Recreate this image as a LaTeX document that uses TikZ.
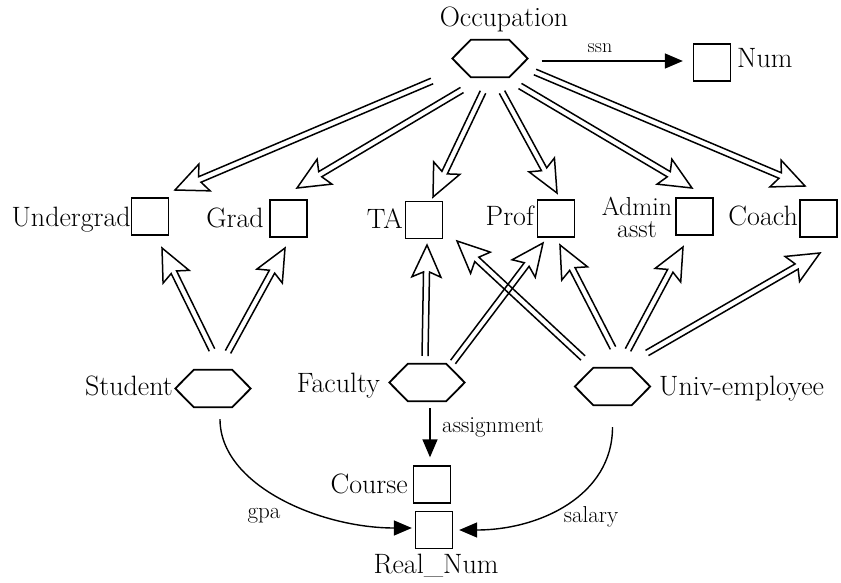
\documentclass[tikz,border=0pt]{standalone}
\usepackage{fontspec}
\usetikzlibrary{calc,arrows.meta}
\tikzset{
  x=1pt, y=-1pt,
  lab/.style={font=\fontsize{28}{30}\selectfont, inner sep=0pt},
  small/.style={font=\fontsize{23}{25}\selectfont, inner sep=0pt},
  sq/.style={draw, line width=1.3pt, minimum width=37pt, minimum height=37pt, inner sep=0pt},
  hexnode/.style={minimum width=75pt, minimum height=37pt, inner sep=0pt},
  hexline/.style={line width=1.8pt, line join=miter},
  hline/.style={line width=1.5pt, line join=miter},
  fline/.style={line width=1.4pt, -{Triangle[length=18pt,width=15pt]}},
}
\newcommand\hexdraw[1]{\draw[hexline] (#1.west) -- ([xshift=18.5pt]#1.north west) -- ([xshift=-18.5pt]#1.north east) -- (#1.east) -- ([xshift=-18.5pt]#1.south east) -- ([xshift=18.5pt]#1.south west) -- cycle;}
% hollow double-lined arrow: tail point, tip point
\newcommand\harr[2]{%
  \coordinate (hS) at #1;
  \coordinate (hT) at #2;
  \coordinate (hN) at ($(hT)!27pt!(hS)$);
  \coordinate (hB) at ($(hT)!32pt!(hS)$);
  \draw[hline] ($(hS)!3pt!90:(hT)$) -- ($(hN)!3pt!-90:(hS)$) -- ($(hB)!14.5pt!-90:(hS)$) -- (hT)
     -- ($(hB)!14.5pt!90:(hS)$) -- ($(hN)!3pt!90:(hS)$) -- ($(hS)!3pt!-90:(hT)$);
}
\begin{document}
\begin{tikzpicture}
\useasboundingbox (0,0) rectangle (841,583);
% hexagon nodes
\node[hexnode] (occ) at (490,58.5) {};
\node[hexnode] (stu) at (213,388.5) {};
\node[hexnode] (fac) at (427,382.5) {};
\node[hexnode] (uni) at (612.5,386.5) {};
\hexdraw{occ}\hexdraw{stu}\hexdraw{fac}\hexdraw{uni}
% squares
\node[sq] (num) at (712,62.5) {};
\node[sq] (ug) at (150,216.5) {};
\node[sq] (gr) at (288.5,218.5) {};
\node[sq] (ta) at (424,220) {};
\node[sq] (pr) at (556,218.5) {};
\node[sq] (ad) at (694.5,216.5) {};
\node[sq] (co) at (818.5,218.5) {};
\node[sq] (crs) at (432,484.5) {};
\node[sq] (rn) at (434,530) {};
% labels
\node[lab, anchor=base] (occl) at (504,27) {Occupation};
\node[lab, anchor=base west] (numl) at (737,68) {Num};
\node[lab, anchor=base east] (ugl) at (131,226) {Undergrad};
\node[lab, anchor=base east] (grl) at (264,227) {Grad};
\node[lab, anchor=base east] (tal) at (403,228) {TA};
\node[lab, anchor=base east] (prl) at (534,225) {Prof};
\node[lab, align=center, font=\fontsize{26}{22}\selectfont, anchor=center] (adl) at (637,217) {Admin\\asst};
\node[lab, anchor=base east] (col) at (798,225) {Coach};
\node[lab, anchor=base east] (stul) at (173,395) {Student};
\node[lab, anchor=base east] (facl) at (380,392) {Faculty};
\node[lab, anchor=base west] (unil) at (659,395) {Univ-employee};
\node[lab, anchor=base east] (crsl) at (408,493) {Course};
\node[lab, anchor=base] (rnl) at (436,573) {Real\_Num};
% attribute arrows
\draw[fline] ($(occ.east)+(14,2.5)$) -- ($(num.west)+(-10,-1.5)$);
\node[small, anchor=base, font=\fontsize{20}{22}\selectfont] (ssnl) at (600,53) {ssn};
\draw[fline] ($(fac.south)+(3,7)$) -- ($(crs.north)+(-2,-8)$);
\node[small, anchor=base west] (asgl) at (442,432) {assignment};
\draw[fline] ($(stu.south)+(7,12)$) .. controls ($(stu.south)+(7,78)$) and ($(rn.west)+(-95,-2)$) .. ($(rn.west)+(-3,-2)$);
\node[small, anchor=base] (gpal) at (264,518) {gpa};
\draw[fline] ($(uni.south)+(0,22)$) .. controls ($(uni.south)+(0,90)$) and ($(rn.east)+(87,0)$) .. ($(rn.east)+(6,0)$);
\node[small, anchor=base] (sall) at (591,522) {salary};
% isa arrows from Occupation
\harr{($(occ)+(-58,22.5)$)}{($(ug)+(25,-26.5)$)}
\harr{($(occ)+(-28,31.5)$)}{($(gr)+(8.5,-30.5)$)}
\harr{($(occ)+(-7,33.5)$)}{($(ta)+(9,-23)$)}
\harr{($(occ)+(12,33.5)$)}{($(pr)+(1,-25.5)$)}
\harr{($(occ)+(30,27.5)$)}{($(ad)+(-2.5,-28.5)$)}
\harr{($(occ)+(45,13.5)$)}{($(co)+(-13.5,-32.5)$)}
% isa arrows from lower classes
\harr{($(stu)+(-1,-38.5)$)}{($(ug)+(12,31.5)$)}
\harr{($(stu)+(15,-36.5)$)}{($(gr)+(-3.5,29.5)$)}
\harr{($(fac)+(-2,-26.5)$)}{($(ta)+(3,25)$)}
\harr{($(fac)+(26,-20.5)$)}{($(pr)+(-13,24.5)$)}
\harr{($(uni)+(-29.5,-28.5)$)}{($(ta)+(33,21)$)}
\harr{($(uni)+(0.5,-38.5)$)}{($(pr)+(4,26.5)$)}
\harr{($(uni)+(15.5,-36.5)$)}{($(ad)+(-11.5,30.5)$)}
\harr{($(uni)+(34.5,-33.5)$)}{($(co)+(1.5,34.5)$)}
\end{tikzpicture}
\end{document}
